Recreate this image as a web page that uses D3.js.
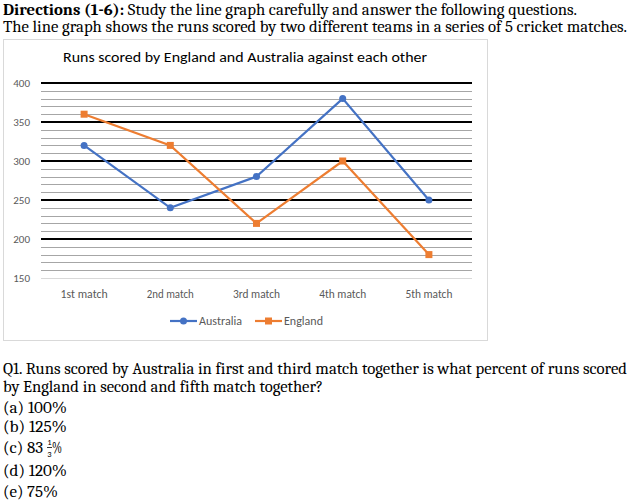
<!DOCTYPE html>
<html><head><meta charset="utf-8">
<script src="https://cdn.jsdelivr.net/npm/d3@7"></script>
<style>body{margin:0;background:#fff}svg{display:block}</style>
</head><body>
<script>
const categories = ["1st match","2nd match","3rd match","4th match","5th match"];
const australia = [320, 240, 280, 380, 250];
const england = [360, 320, 220, 300, 180];
const yTicks = [150, 200, 250, 300, 350, 400];
const seriesNames = ["Australia", "England"];
const options = ["(a) 100%", "(b) 125%", null, "(d) 120%", "(e) 75%"];

const W = 635, H = 501;
const svg = d3.select("body").append("svg").attr("width", W).attr("height", H);
const serif = "Cambria, 'Liberation Serif', serif";
const sans = "Calibri, Carlito, 'Open Sans', 'Liberation Sans', sans-serif";

// header text
const t1 = svg.append("text").attr("x", 3).attr("y", 15).attr("font-family", serif)
  .attr("font-size", 16).attr("fill", "#000").attr("textLength", 574).attr("lengthAdjust", "spacingAndGlyphs");
t1.append("tspan").attr("font-weight", "bold").text("Directions (1-6):");
t1.append("tspan").text(" Study the line graph carefully and answer the following questions.");
svg.append("text").attr("x", 3).attr("y", 32).attr("font-family", serif).attr("font-size", 16)
  .attr("textLength", 624).attr("lengthAdjust", "spacingAndGlyphs")
  .text("The line graph shows the runs scored by two different teams in a series of 5 cricket matches.");

// chart box
svg.append("rect").attr("x", 3.5).attr("y", 39.5).attr("width", 484).attr("height", 301)
  .attr("fill", "#fff").attr("stroke", "#d9d9d9").attr("stroke-width", 1);

svg.append("text").attr("x", 245).attr("y", 62).attr("text-anchor", "middle")
  .attr("font-family", sans).attr("font-size", 15).attr("fill", "#000")
  .attr("textLength", 364).attr("lengthAdjust", "spacingAndGlyphs")
  .text("Runs scored by England and Australia against each other");

const x0 = 41, x1 = 472;
const y = d3.scaleLinear().domain([150, 400]).range([278, 83]);
const x = d3.scaleBand().domain(categories).range([x0, x1]);
const cx = d => x(d) + x.bandwidth() / 2;

// minor gridlines
const minor = d3.range(160, 400, 10).filter(v => v % 50 !== 0);
svg.append("g").selectAll("line").data(minor).join("line")
  .attr("x1", x0).attr("x2", x1).attr("y1", d => Math.round(y(d)) + 0.5).attr("y2", d => Math.round(y(d)) + 0.5)
  .attr("stroke", "#a6a6a6").attr("stroke-width", 1);
// major gridlines
svg.append("g").selectAll("line").data(yTicks.filter(v => v > 150)).join("line")
  .attr("x1", x0).attr("x2", x1).attr("y1", d => Math.round(y(d))).attr("y2", d => Math.round(y(d)))
  .attr("stroke", "#000").attr("stroke-width", 2);
// axis base line
svg.append("line").attr("x1", x0).attr("x2", x1).attr("y1", Math.round(y(150)) + 0.5).attr("y2", Math.round(y(150)) + 0.5)
  .attr("stroke", "#d9d9d9").attr("stroke-width", 1);

// y axis labels
const yAxis = d3.axisLeft(y).tickValues(yTicks).tickSize(0).tickPadding(0);
const ga = svg.append("g").attr("transform", "translate(30,0)").call(yAxis);
ga.select(".domain").remove();
ga.selectAll("text").attr("font-family", sans).attr("font-size", 11).attr("fill", "#595959").attr("dy", "0.35em");

// x axis labels
const xAxis = d3.axisBottom(x).tickSize(0).tickPadding(0);
const gx = svg.append("g").attr("transform", "translate(0,294)").call(xAxis);
gx.select(".domain").remove();
gx.selectAll("text").attr("font-family", sans).attr("font-size", 11.5).attr("fill", "#595959").attr("dy", "0.35em")
  .attr("textLength", 47).attr("lengthAdjust", "spacingAndGlyphs");

const line = d3.line().x((d, i) => cx(categories[i])).y(d => y(d));
const colA = "#4472c4", colE = "#ed7d31";
svg.append("path").datum(australia).attr("d", line).attr("fill", "none").attr("stroke", colA).attr("stroke-width", 2.2);
svg.append("path").datum(england).attr("d", line).attr("fill", "none").attr("stroke", colE).attr("stroke-width", 2.2);
svg.append("g").selectAll("circle").data(australia).join("circle")
  .attr("cx", (d, i) => cx(categories[i])).attr("cy", d => y(d)).attr("r", 3.5).attr("fill", colA);
svg.append("g").selectAll("rect").data(england).join("rect")
  .attr("x", (d, i) => cx(categories[i]) - 3.5).attr("y", d => y(d) - 3.5).attr("width", 7).attr("height", 7).attr("fill", colE);

// legend
const lg = svg.append("g");
const legendItems = [{name: seriesNames[0], c: colA, x: 170, shape: "circle", w: 43}, {name: seriesNames[1], c: colE, x: 255, shape: "rect", w: 39}];
legendItems.forEach(it => {
  lg.append("line").attr("x1", it.x).attr("x2", it.x + 27).attr("y1", 321).attr("y2", 321).attr("stroke", it.c).attr("stroke-width", 2.2);
  if (it.shape === "circle") lg.append("circle").attr("cx", it.x + 13.5).attr("cy", 321).attr("r", 3.5).attr("fill", it.c);
  else lg.append("rect").attr("x", it.x + 10).attr("y", 317.5).attr("width", 7).attr("height", 7).attr("fill", it.c);
  lg.append("text").attr("x", it.x + 29).attr("y", 321).attr("dy", "0.35em").attr("font-family", sans)
    .attr("font-size", 11.5).attr("fill", "#595959").attr("textLength", it.w).attr("lengthAdjust", "spacingAndGlyphs").text(it.name);
});

// question
svg.append("text").attr("x", 3).attr("y", 374).attr("font-family", serif).attr("font-size", 16)
  .attr("textLength", 624).attr("lengthAdjust", "spacingAndGlyphs")
  .text("Q1. Runs scored by Australia in first and third match together is what percent of runs scored");
svg.append("text").attr("x", 3).attr("y", 392).attr("font-family", serif).attr("font-size", 16)
  .attr("textLength", 320).attr("lengthAdjust", "spacingAndGlyphs")
  .text("by England in second and fifth match together?");
const optY = [413, 432, 453, 476, 497];
const optW = [64, 64, 0, 64, 55];
options.forEach((o, i) => {
  if (o) svg.append("text").attr("x", 3).attr("y", optY[i]).attr("font-family", serif).attr("font-size", 16)
    .attr("textLength", optW[i]).attr("lengthAdjust", "spacingAndGlyphs").text(o);
});
// option (c) with fraction
svg.append("text").attr("x", 3).attr("y", optY[2]).attr("font-family", serif).attr("font-size", 16)
  .attr("textLength", 40).attr("lengthAdjust", "spacingAndGlyphs").text("(c) 83");
svg.append("text").attr("x", 49.5).attr("y", 445).attr("text-anchor", "middle").attr("font-family", sans).attr("font-size", 8.5).text("1");
svg.append("line").attr("x1", 47).attr("x2", 52).attr("y1", 447.5).attr("y2", 447.5).attr("stroke", "#000").attr("stroke-width", 0.8);
svg.append("text").attr("x", 49.5).attr("y", 457).attr("text-anchor", "middle").attr("font-family", sans).attr("font-size", 8.5).text("3");
svg.append("text").attr("x", 52).attr("y", optY[2]).attr("font-family", serif).attr("font-size", 16)
  .attr("textLength", 10).attr("lengthAdjust", "spacingAndGlyphs").text("%");
</script>
</body></html>
